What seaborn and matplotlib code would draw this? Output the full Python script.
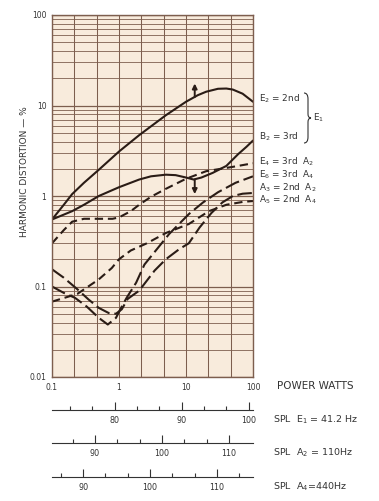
import numpy as np
import pandas as pd
import seaborn as sns
import matplotlib.pyplot as plt
from matplotlib.path import Path
from matplotlib.patches import PathPatch
from matplotlib.ticker import NullFormatter

# curve data: power (W) vs harmonic distortion (%)
e2_power = [0.1, 0.15, 0.2, 0.3, 0.5, 1, 2, 5, 10, 15, 20, 30, 40, 50, 70, 100]
e2_dist = [0.55, 0.8, 1.05, 1.4, 1.95, 3.1, 4.7, 7.8, 11, 13, 14.2, 15.3, 15.4, 15, 13.5, 11]

b2_power = [0.1, 0.2, 0.3, 0.5, 1, 2, 3, 5, 7, 10, 13, 17, 25, 40, 60, 80, 100]
b2_dist = [0.55, 0.68, 0.8, 1.0, 1.25, 1.52, 1.65, 1.72, 1.7, 1.6, 1.52, 1.6, 1.8, 2.15, 2.9, 3.5, 4.1]

e4_power = [0.1, 0.15, 0.2, 0.3, 0.5, 0.8, 1, 1.5, 2, 3, 5, 10, 20, 50, 100]
e4_dist = [0.3, 0.42, 0.52, 0.56, 0.56, 0.56, 0.58, 0.68, 0.8, 0.98, 1.2, 1.55, 1.88, 2.1, 2.3]

e6_power = [0.1, 0.15, 0.22, 0.33, 0.5, 0.68, 0.9, 1.1, 1.3, 1.8, 2.4, 5.6, 11, 18, 30, 55, 100]
e6_dist = [0.1, 0.085, 0.075, 0.06, 0.045, 0.038, 0.045, 0.06, 0.075, 0.11, 0.175, 0.38, 0.63, 0.85, 1.1, 1.4, 1.65]

a3_power = [0.1, 0.15, 0.24, 0.35, 0.5, 0.7, 0.9, 1.1, 1.35, 2, 3.4, 5, 8, 11, 16, 24, 35, 50, 70, 100]
a3_dist = [0.155, 0.125, 0.093, 0.072, 0.058, 0.051, 0.05, 0.056, 0.073, 0.09, 0.15, 0.2, 0.26, 0.3, 0.45, 0.65, 0.85, 1.0, 1.06, 1.08]

a5_power = [0.1, 0.24, 0.5, 0.78, 1.0, 1.5, 2.6, 5, 11, 22, 40, 70, 100]
a5_dist = [0.068, 0.083, 0.12, 0.16, 0.2, 0.25, 0.3, 0.39, 0.49, 0.68, 0.8, 0.86, 0.88]

curve_labels = {
    'E2': 'E$_2$ = 2nd',
    'B2': 'B$_2$ = 3rd',
    'E4': 'E$_4$ = 3rd  A$_2$',
    'E6': 'E$_6$ = 3rd  A$_4$',
    'A3': 'A$_3$ = 2nd  A$_2$',
    'A5': 'A$_5$ = 2nd  A$_4$',
}

# SPL scales: SPL = offset + 10*log10(P)
spl_scales = [
    ('SPL  E$_1$ = 41.2 Hz', 80.64, [80, 90, 100], [73.33, 76.67, 83.33, 86.67, 93.33, 96.67]),
    ('SPL  A$_2$ = 110Hz', 93.6, [90, 100, 110], [86.67, 93.33, 96.67, 103.33, 106.67]),
    ('SPL  A$_4$=440Hz', 95.35, [90, 100, 110], [86.67, 93.33, 96.67, 103.33, 106.67, 113.33]),
]

arrow_power = 13.5
arrow_up = (12.4, 17.5)
arrow_down = (1.52, 1.05)

ink = '#2a1c16'
grid_col = '#7d5e4e'
paper = '#f8ebdc'
text_col = '#333333'

sns.set_style('white')
plt.rcParams['font.family'] = ['DejaVu Sans']
plt.rcParams['mathtext.default'] = 'regular'

frames = []
for name, p, d in [('E2', e2_power, e2_dist), ('B2', b2_power, b2_dist),
                   ('E4', e4_power, e4_dist), ('E6', e6_power, e6_dist),
                   ('A3', a3_power, a3_dist), ('A5', a5_power, a5_dist)]:
    frames.append(pd.DataFrame({'power': p, 'distortion': d, 'curve': name}))
df = pd.concat(frames, ignore_index=True)

dash_map = {'E2': '', 'B2': '', 'E4': (4.0, 2.3), 'A5': (4.0, 2.3),
            'E6': (7.0, 2.3), 'A3': (7.0, 2.3)}

W, H = 379, 501
fig = plt.figure(figsize=(W / 100, H / 100), dpi=100)
fig.patch.set_facecolor('white')


def fx(x):
    return x / W


def fy(y):
    return 1 - y / H


ax = fig.add_axes([fx(52), fy(377), 201 / W, 362 / H])
ax.set_facecolor(paper)
ax.set_xscale('log')
ax.set_yscale('log')
ax.set_xlim(0.1, 100)
ax.set_ylim(0.01, 100)

sns.lineplot(data=df, x='power', y='distortion', hue='curve', style='curve',
             palette={k: ink for k in dash_map}, dashes=dash_map,
             linewidth=1.5, estimator=None, sort=False, legend=False, ax=ax)

# grid: vertical lines every third of a decade, log horizontal grid
ax.set_xticks([0.1, 1, 10, 100])
ax.set_xticklabels(['0.1', '1', '10', '100'])
ax.set_xticks([10 ** (k / 3) for k in range(-3, 7)], minor=True)
ax.xaxis.set_minor_formatter(NullFormatter())
ax.set_yticks([0.01, 0.1, 1, 10, 100])
ax.set_yticklabels(['0.01', '0.1', '1', '10', '100'])
ax.set_yticks([m * 10.0 ** e for e in range(-2, 2) for m in range(2, 10)], minor=True)
ax.yaxis.set_minor_formatter(NullFormatter())
ax.xaxis.grid(True, which='both', color=grid_col, lw=0.75)
ax.yaxis.grid(True, which='major', color=grid_col, lw=0.9)
ax.yaxis.grid(True, which='minor', color=grid_col, lw=0.6)
ax.set_axisbelow(True)
ax.tick_params(which='both', length=0, labelsize=5.5, labelcolor=text_col)
ax.tick_params(axis='x', pad=4)
ax.tick_params(axis='y', pad=4)
ax.set_xlabel('')
ax.set_ylabel('')
for s in ax.spines.values():
    s.set_color(grid_col)
    s.set_linewidth(1.0)

ax.annotate('', xy=(arrow_power, arrow_up[1]), xytext=(arrow_power, arrow_up[0]),
            arrowprops=dict(arrowstyle='-|>', color=ink, lw=1.4, mutation_scale=7,
                            shrinkA=0, shrinkB=0))
ax.annotate('', xy=(arrow_power, arrow_down[1]), xytext=(arrow_power, arrow_down[0]),
            arrowprops=dict(arrowstyle='-|>', color=ink, lw=1.4, mutation_scale=7,
                            shrinkA=0, shrinkB=0))

fig.text(fx(25), fy(172), 'HARMONIC DISTORTION — %', rotation=90, ha='center',
         va='center', fontsize=6.5, color=text_col)
fig.text(fx(277), fy(386), 'POWER WATTS', ha='left', va='center', fontsize=7.5,
         color=text_col)

# curve labels on the right
label_y = {'E2': 99, 'B2': 137, 'E4': 162, 'E6': 175, 'A3': 188, 'A5': 200}
for k, yy in label_y.items():
    fig.text(fx(259), fy(yy), curve_labels[k], ha='left', va='center',
             fontsize=6.4, color=text_col)

# brace joining E2 / B2
bx, top, bot, mid = 304, 93, 143, 118
verts = [(bx, top), (bx + 4, top), (bx + 4, top + 6), (bx + 4, mid - 4),
         (bx + 4, mid), (bx + 7, mid), (bx + 4, mid), (bx + 4, mid + 4),
         (bx + 4, bot - 6), (bx + 4, bot), (bx, bot)]
codes = [Path.MOVETO, Path.CURVE3, Path.CURVE3, Path.LINETO, Path.CURVE3, Path.CURVE3,
         Path.CURVE3, Path.CURVE3, Path.LINETO, Path.CURVE3, Path.CURVE3]
brace = Path([(fx(x), fy(y)) for x, y in verts], codes)
fig.patches.append(PathPatch(brace, transform=fig.transFigure, fill=False,
                             edgecolor=text_col, lw=0.8))
fig.text(fx(313), fy(118), 'E$_1$', ha='left', va='center', fontsize=6.4, color=text_col)

# SPL scales below the power axis
line_y = [410, 443, 477]
for (title, offset, majors, minors), yl in zip(spl_scales, line_y):
    sa = fig.add_axes([fx(52), fy(yl), 201 / W, 0.001])
    sa.patch.set_visible(False)
    sa.set_xlim(offset - 10, offset + 20)
    sa.set_yticks([])
    for side in ['top', 'left', 'right']:
        sa.spines[side].set_visible(False)
    sa.spines['bottom'].set_color(text_col)
    sa.spines['bottom'].set_linewidth(0.8)
    sa.set_xticks(majors)
    sa.set_xticklabels([str(m) for m in majors])
    sa.set_xticks(minors, minor=True)
    sa.xaxis.set_minor_formatter(NullFormatter())
    sa.tick_params(axis='x', which='both', bottom=True, top=False)
    sa.tick_params(axis='x', which='major', direction='in', length=6, width=0.8,
                   color=text_col, labelsize=5.8, labelcolor=text_col, pad=4)
    sa.tick_params(axis='x', which='minor', direction='in', length=3, width=0.8,
                   color=text_col)
    fig.text(fx(273), fy(yl + 10), title, ha='left', va='center', fontsize=6.8,
             color=text_col)

fig.savefig('out.png', dpi=100, facecolor='white')
